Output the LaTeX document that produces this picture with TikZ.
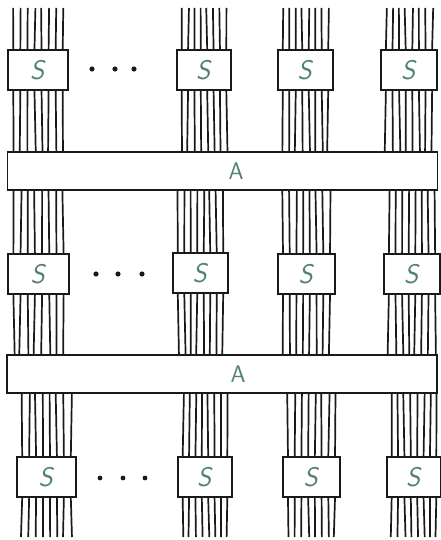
\documentclass[tikz,border=0pt]{standalone}
\usetikzlibrary{calc}
\definecolor{ink}{RGB}{25,25,25}
\definecolor{lett}{RGB}{80,128,118}
\tikzset{
  sbox/.style={draw=ink, line width=1.8pt, fill=white, inner sep=0pt, minimum height=40pt, font=\sffamily\fontsize{27}{29}\selectfont, text=lett},
  abar/.style={draw=ink, line width=1.7pt, fill=white, inner sep=0pt, minimum height=38pt, minimum width=430pt},
  strand/.style={draw=ink, line width=1.7pt},
  lbl/.style={font=\sffamily\fontsize{24}{26}\selectfont, text=lett},
  dotm/.style={fill=ink}
}
\newcommand\strandsof[3]{%
  \foreach \i in {0,...,7}{%
    \pgfmathsetmacro\f{0.1+\i*0.8/7}%
    \pgfmathsetmacro\ja{rand*1.3}%
    \pgfmathsetmacro\jb{rand*1.3}%
    \path ($(#1.north west)!\f!(#1.north east)$) coordinate (pt)
          ($(#1.south west)!\f!(#1.south east)$) coordinate (pb);
    \draw[strand] (pt) -- ($(pt |- #2)+(\ja pt,0)$);
    \draw[strand] (pb) -- ($(pb |- #3)+(\jb pt,0)$);
  }}
\begin{document}
\begin{tikzpicture}[x=1pt,y=1pt]
\pgfmathsetseed{7}
\useasboundingbox (0,0) rectangle (441,-540);
\coordinate (topref) at (0,-8);
\coordinate (botref) at (0,-537);
% bars
\node[abar] (A1) at (222.5,-171) {};
\node[abar] (A2) at (222,-374) {};
\node[lbl] (A1l) at (236,-171) {A};
\node[lbl] (A2l) at (238,-374) {A};
% row 1
\node[sbox, minimum width=60pt] (s11) at (38,-70) {\textsl{S}};
\node[sbox, minimum width=54pt] (s12) at (204,-70) {\textsl{S}};
\node[sbox, minimum width=55pt] (s13) at (305.5,-70) {\textsl{S}};
\node[sbox, minimum width=56pt] (s14) at (409,-70) {\textsl{S}};
% row 2
\node[sbox, minimum width=61pt] (s21) at (38.5,-274) {\textsl{S}};
\node[sbox, minimum width=55pt] (s22) at (200.5,-273) {\textsl{S}};
\node[sbox, minimum width=57pt] (s23) at (306.5,-274) {\textsl{S}};
\node[sbox, minimum width=56pt] (s24) at (412,-274) {\textsl{S}};
% row 3
\node[sbox, minimum width=59pt] (s31) at (46.5,-477) {\textsl{S}};
\node[sbox, minimum width=54pt] (s32) at (205,-477) {\textsl{S}};
\node[sbox, minimum width=57pt] (s33) at (311.5,-477) {\textsl{S}};
\node[sbox, minimum width=54pt] (s34) at (414,-477) {\textsl{S}};
% strands
\foreach \n in {s11,s12,s13,s14}{\strandsof{\n}{topref}{A1.north}}
\foreach \n in {s21,s22,s23,s24}{\strandsof{\n}{A1.south}{A2.north}}
\foreach \n in {s31,s32,s33,s34}{\strandsof{\n}{A2.south}{botref}}
% dots
\foreach \x in {92,115,134}{\fill[dotm] (\x,-69) circle (2.6pt);}
\foreach \x in {96,118,142}{\fill[dotm] (\x,-274) circle (2.6pt);}
\foreach \x in {100,123,145}{\fill[dotm] (\x,-478) circle (2.4pt);}
\end{tikzpicture}
\end{document}
